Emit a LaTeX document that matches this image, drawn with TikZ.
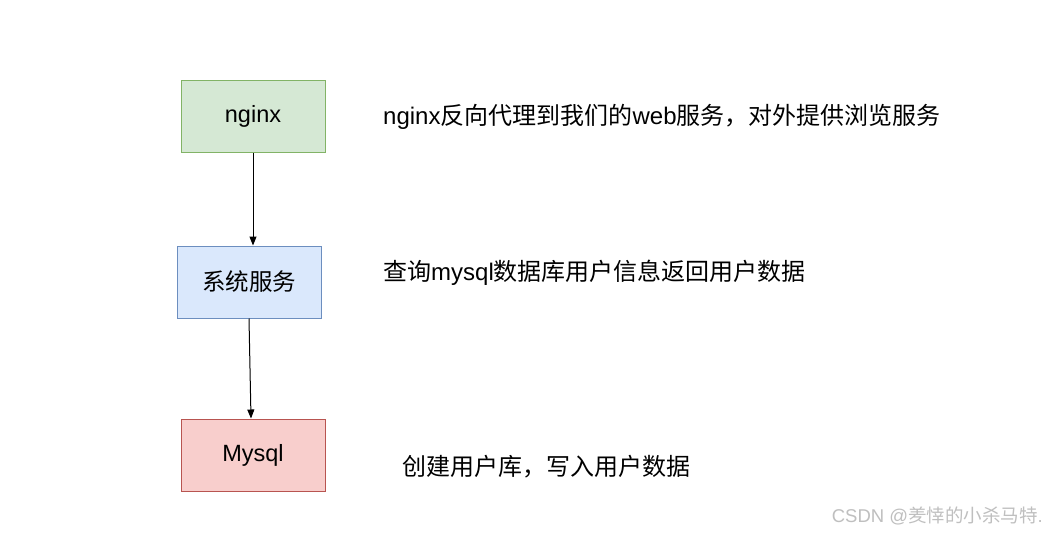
\documentclass[tikz,border=0pt]{standalone}
\usepackage{fontspec}
\setmainfont{Liberation Sans}
\newfontfamily\cjk{Noto Sans CJK SC}
\newfontfamily\lat{Liberation Sans}
\usetikzlibrary{arrows.meta}
\definecolor{gfill}{HTML}{D5E8D4}\definecolor{gline}{HTML}{82B366}
\definecolor{bfill}{HTML}{DAE8FC}\definecolor{bline}{HTML}{6C8EBF}
\definecolor{rfill}{HTML}{F8CECC}\definecolor{rline}{HTML}{B85450}
\tikzset{
  box/.style={draw, line width=1pt, minimum width=144pt, minimum height=72pt, inner sep=0pt, font=\fontsize{23.5}{27}\selectfont},
  note/.style={anchor=west, inner sep=0pt, font=\fontsize{24}{28}\selectfont},
  conn/.style={line width=1pt, -{Triangle[length=9pt,width=7pt]}},
}
\begin{document}
\begin{tikzpicture}[x=1pt,y=1pt]
\useasboundingbox[fill=white] (0,0) rectangle (1046,-533);
\node[box, fill=gfill, draw=gline] (ng) at (253,-116) {\lat nginx};
\node[box, fill=bfill, draw=bline] (sys) at (249,-282) {\cjk 系统服务};
\node[box, fill=rfill, draw=rline] (my) at (253,-455) {\lat Mysql};
\draw[conn] (ng.south) -- (sys.north -| ng.south);
\draw[conn] (sys.south) -- (my.north -| 251,0);
\node[note] (t1) at (383,-117) {{\lat nginx}{\cjk 反向代理到我们的}{\lat web}{\cjk 服务，对外提供浏览服务}};
\node[note] (t2) at (383,-273) {{\cjk 查询}{\lat mysql}{\cjk 数据库用户信息返回用户数据}};
\node[note] (t3) at (402,-467) {{\cjk 创建用户库，写入用户数据}};
\node[anchor=east, inner sep=0pt, text=black!25, font=\fontsize{18.5}{22}\selectfont] (wm) at (1043,-516) {{\lat CSDN @}{\cjk 羑悻的小杀马特}{\lat .}};
\end{tikzpicture}
\end{document}
